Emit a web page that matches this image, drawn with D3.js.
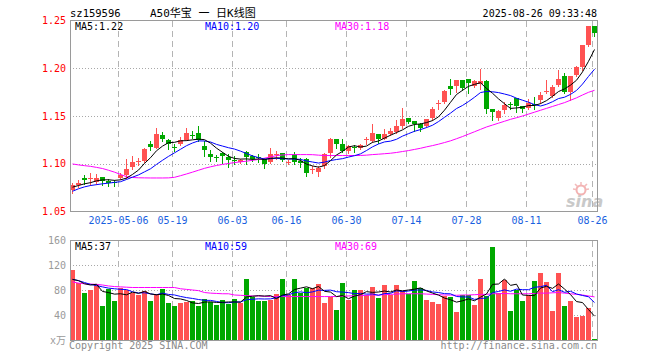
<!DOCTYPE html>
<html><head><meta charset="utf-8">
<script src="https://cdn.jsdelivr.net/npm/d3@7/dist/d3.min.js"></script>
<style>
body{margin:0;background:#fff}
svg{display:block}
</style>
</head><body>
<svg id="chart" width="660" height="360"></svg>
<script>
const dates = ["2025-04-21","2025-04-22","2025-04-23","2025-04-24","2025-04-25","2025-04-28","2025-04-29","2025-04-30",
"2025-05-06","2025-05-07","2025-05-08","2025-05-09","2025-05-12","2025-05-13","2025-05-14","2025-05-15","2025-05-16","2025-05-19","2025-05-20","2025-05-21","2025-05-22","2025-05-23","2025-05-26","2025-05-27","2025-05-28","2025-05-29","2025-05-30",
"2025-06-03","2025-06-04","2025-06-05","2025-06-06","2025-06-09","2025-06-10","2025-06-11","2025-06-12","2025-06-13","2025-06-16","2025-06-17","2025-06-18","2025-06-19","2025-06-20","2025-06-23","2025-06-24","2025-06-25","2025-06-26","2025-06-27","2025-06-30",
"2025-07-01","2025-07-02","2025-07-03","2025-07-04","2025-07-07","2025-07-08","2025-07-09","2025-07-10","2025-07-11","2025-07-14","2025-07-15","2025-07-16","2025-07-17","2025-07-18","2025-07-21","2025-07-22","2025-07-23","2025-07-24","2025-07-25","2025-07-28","2025-07-29","2025-07-30","2025-07-31",
"2025-08-01","2025-08-04","2025-08-05","2025-08-06","2025-08-07","2025-08-08","2025-08-11","2025-08-12","2025-08-13","2025-08-14","2025-08-15","2025-08-18","2025-08-19","2025-08-20","2025-08-21","2025-08-22","2025-08-25","2025-08-26"];

const openP = [1.0720,1.0774,1.0846,1.0850,1.0808,1.0857,1.0815,1.0808,1.0853,1.0885,
1.0965,1.1024,1.1028,1.1210,1.1168,1.1305,1.1245,1.1178,1.1203,1.1252,
1.1304,1.1318,1.1182,1.1098,1.1070,1.1108,1.1070,1.1038,1.1017,1.1122,
1.1078,1.1073,1.1045,1.1017,1.1094,1.1108,1.1015,1.1098,1.1028,1.1052,
1.0937,1.0913,1.0976,1.1115,1.1255,1.1203,1.1133,1.1171,1.1168,1.1252,
1.1238,1.1308,1.1262,1.1308,1.1332,1.1395,1.1476,1.1448,1.1413,1.1395,
1.1475,1.1634,1.1650,1.1813,1.1818,1.1874,1.1883,1.1818,1.1836,1.1865,
1.1574,1.1481,1.1560,1.1626,1.1692,1.1602,1.1587,1.1622,1.1665,1.1756,
1.1706,1.1822,1.1920,1.1752,1.1934,1.2014,1.2241,1.2440];

const highP = [1.0794,1.0832,1.0877,1.0902,1.0895,1.0857,1.0836,1.0832,1.0902,1.1045,
1.1084,1.1063,1.1168,1.1238,1.1370,1.1335,1.1255,1.1203,1.1280,1.1377,
1.1339,1.1391,1.1238,1.1140,1.1087,1.1126,1.1098,1.1080,1.1052,1.1133,
1.1090,1.1098,1.1063,1.1161,1.1133,1.1115,1.1035,1.1126,1.1063,1.1063,
1.0976,1.0976,1.1115,1.1273,1.1255,1.1255,1.1192,1.1192,1.1203,1.1283,
1.1413,1.1308,1.1360,1.1378,1.1458,1.1587,1.1483,1.1448,1.1430,1.1472,
1.1590,1.1672,1.1769,1.1892,1.1881,1.1874,1.1892,1.1881,1.1995,1.1874,
1.1577,1.1560,1.1647,1.1647,1.1692,1.1602,1.1682,1.1699,1.1752,1.1874,
1.1822,1.1979,1.1951,1.1916,1.2024,1.2241,1.2440,1.2440];

const lowP = [1.0696,1.0755,1.0790,1.0773,1.0783,1.0776,1.0769,1.0766,1.0839,1.0853,
1.0941,1.0986,1.1021,1.1147,1.1160,1.1238,1.1154,1.1133,1.1196,1.1245,
1.1269,1.1238,1.1077,1.1028,1.1028,1.1003,1.0965,1.0993,1.1003,1.1000,
1.1028,1.1017,1.0951,1.1003,1.1045,1.1024,1.0993,1.0993,1.0965,1.0871,
1.0906,1.0871,1.0958,1.1073,1.1168,1.1126,1.1108,1.1122,1.1150,1.1203,
1.1227,1.1220,1.1255,1.1297,1.1318,1.1378,1.1430,1.1343,1.1343,1.1388,
1.1462,1.1577,1.1640,1.1730,1.1752,1.1769,1.1741,1.1804,1.1780,1.1535,
1.1462,1.1462,1.1532,1.1577,1.1542,1.1542,1.1577,1.1577,1.1637,1.1741,
1.1699,1.1815,1.1741,1.1665,1.1916,1.1979,1.2231,1.2335];

const closeP = [1.0773,1.0794,1.0832,1.0853,1.0853,1.0822,1.0801,1.0801,1.0881,1.0944,
1.1014,1.1028,1.1154,1.1175,1.1310,1.1255,1.1210,1.1172,1.1252,1.1321,
1.1297,1.1248,1.1143,1.1070,1.1059,1.1080,1.1038,1.1031,1.1035,1.1070,
1.1052,1.1063,1.1000,1.1098,1.1098,1.1038,1.1019,1.1017,1.1003,1.0906,
1.0941,1.0955,1.1098,1.1262,1.1203,1.1130,1.1185,1.1164,1.1192,1.1255,
1.1325,1.1255,1.1315,1.1343,1.1395,1.1465,1.1441,1.1413,1.1371,1.1465,
1.1570,1.1637,1.1762,1.1782,1.1874,1.1789,1.1846,1.1867,1.1865,1.1577,
1.1537,1.1552,1.1612,1.1619,1.1602,1.1577,1.1637,1.1615,1.1717,1.1759,
1.1804,1.1885,1.1752,1.1916,1.2014,1.2241,1.2440,1.2370];

// price moving averages: first points (that need earlier history)
const ma5Head  = [1.0755,1.0772,1.0790,1.0802];
const ma10Head = [1.0712,1.0738,1.0758,1.0772,1.0781,1.0790,1.0797,1.0805,1.0812];
const ma30P = [1.0998,1.0988,1.0980,1.0973,1.0962,1.0950,1.0932,1.0912,1.0888,1.0865,
1.0856,1.0853,1.0852,1.0851,1.0851,1.0851,1.0852,1.0858,1.0875,1.0893,
1.0912,1.0932,1.0952,1.0968,1.0982,1.0993,1.1003,1.1012,1.1020,1.1027,
1.1036,1.1045,1.1058,1.1072,1.1085,1.1092,1.1096,1.1096,1.1096,1.1096,
1.1095,1.1090,1.1086,1.1086,1.1086,1.1086,1.1086,1.1086,1.1087,1.1090,
1.1096,1.1100,1.1105,1.1110,1.1118,1.1128,1.1138,1.1150,1.1162,1.1177,
1.1190,1.1205,1.1222,1.1240,1.1262,1.1285,1.1310,1.1335,1.1360,1.1385,
1.1405,1.1425,1.1445,1.1465,1.1482,1.1500,1.1520,1.1540,1.1560,1.1580,
1.1600,1.1620,1.1640,1.1665,1.1690,1.1720,1.1748,1.1769];

// volume (万)
const volume = [112,91,75,80,88,54.5,82,62.5,83,79.5,
76,72,78.5,62.5,73,82,60,54.5,59,61,
62.5,55,65.5,61.5,56,63.5,58,65.5,60,97.5,
69,62.5,62.5,63.5,73.5,97.5,72,97.5,74.5,84,
82.5,89.5,59,68.5,48,91,64,80,80,72,
85,67,88,72,88,78.5,73.5,94.5,82.5,64,
61,57.5,70.5,69,45,72,72,56,97.5,70.5,
149,75,96,46.5,80,62.5,72,94.5,107,93,
46.5,107,54.5,62.5,37,38.5,51,2];
const volMa5Head  = [97,95,90,88];
const volMa10Head = [97,95,92,89,87,85,83,82,81];
const volMa30 = [93,91,90,89.5,89,88,86.5,85.5,85,84.5,
84,84,84,84,84,84,84,84,82,81,
80,79,76,75,74.5,74,74,72,71.5,71,
70.5,70.5,70,69.5,69.5,69.5,69.5,69.5,69.5,69.5,
69.5,69.5,69.5,69.5,69.5,70,70.5,71,71,71.5,
72,72,72.5,73,73.5,74,74,74,74,73.5,
73,72.5,72,72,71.5,72,72,72.5,73,73,
74,74,74.5,74,74,74,74,74.5,75,75,
75.5,76,75,74,73,72,70.5,69];

const priceTicks = [1.05,1.10,1.15,1.20,1.25];
const priceGrid = [1.10,1.15,1.20];
const volTicks = [0,40,80,120,160];
const volGrid = [40,80,120];
const dateTicks = ["2025-05-06","2025-05-19","2025-06-03","2025-06-16","2025-06-30","2025-07-14","2025-07-28","2025-08-11","2025-08-26"];
const dateTickLabels = ["2025-05-06","05-19","06-03","06-16","06-30","07-14","07-28","08-11","08-26"];
const priceMaLabels = ["MA5:1.22","MA10:1.20","MA30:1.18"];
const volMaLabels = ["MA5:37","MA10:59","MA30:69"];
const titleTexts = ["sz159596","A50华宝 一 日K线图","2025-08-26 09:33:48"];

function movingAvg(vals, n, head){
  return vals.map((v,i)=> i < n-1 ? head[i] : d3.mean(vals.slice(i-n+1, i+1)));
}
const ma5P = movingAvg(closeP,5,ma5Head);
const ma10P = movingAvg(closeP,10,ma10Head);
const volMa5 = movingAvg(volume,5,volMa5Head);
const volMa10 = movingAvg(volume,10,volMa10Head);

const MONO = "'DejaVu Sans Mono', 'Liberation Mono', monospace";
const RED = "#ff5252", GREEN = "#00a800";
const L = 70, R = 597, T1 = 20, B1 = 211, T2 = 240, B2 = 340;

const svg = d3.select("#chart");

const x = d3.scaleBand().domain(dates).range([L-0.5, R+0.5]).paddingInner(1/6).paddingOuter(1/12);
const bw = x.bandwidth();
const y = d3.scaleLinear().domain([1.05,1.25]).range([B1+0.5, T1+0.5]);
const yv = d3.scaleLinear().domain([0,160]).range([B2, T2]);

const px = v => Math.round(v) + 0.5;

// title row
svg.append("text").attr("x",70).attr("y",17).attr("font-family",MONO).attr("font-size",10.5).attr("fill","#000").text(titleTexts[0]);
svg.append("text").attr("x",150).attr("y",17).attr("font-family","'DejaVu Sans Mono','Noto Sans CJK SC',monospace").attr("font-size",11).attr("fill","#000").text(titleTexts[1]);
svg.append("text").attr("x",597).attr("y",17).attr("text-anchor","end").attr("font-family",MONO).attr("font-size",10).attr("fill","#000").text(titleTexts[2]);

// grids
function grids(g, yScale, gridVals, top, bottom){
  g.selectAll(".hg").data(gridVals).join("line")
    .attr("x1",L).attr("x2",R).attr("y1",d=>px(yScale(d))).attr("y2",d=>px(yScale(d)))
    .attr("stroke","#a8a8a8").attr("stroke-dasharray","1,2");
  g.selectAll(".vg").data(dateTicks).join("line")
    .attr("x1",d=>x(d)+0.5).attr("x2",d=>x(d)+0.5).attr("y1",top).attr("y2",bottom)
    .attr("stroke","#b4b4b4").attr("stroke-dasharray","6,4");
}
const gMain = svg.append("g");
grids(gMain.append("g"), y, priceGrid, T1+1, B1);
const gVol = svg.append("g");
grids(gVol.append("g"), yv, volGrid, T2+1, B2);

// watermark
const wm = svg.append("g").attr("opacity",0.9);
wm.append("circle").attr("cx",581).attr("cy",190).attr("r",4.5).attr("fill","none").attr("stroke","#f2aaaa").attr("stroke-width",2);
[[-8,-1],[-6,-6],[0,-8],[6,-6],[8,-1]].forEach(([dx,dy])=>{
  wm.append("line").attr("x1",581+dx*0.6).attr("y1",190+dy*0.6).attr("x2",581+dx).attr("y2",190+dy).attr("stroke","#f2b4b4").attr("stroke-width",1.5);
});
wm.append("text").attr("x",566).attr("y",207).attr("font-family","'DejaVu Sans',sans-serif").attr("font-weight","bold").attr("font-style","italic").attr("font-size",16).attr("fill","#c4c4c4").text("sina");

// candles
const idx = d3.range(dates.length);
const isUp = i => closeP[i] >= openP[i];
const cg = svg.append("g");
cg.selectAll("line").data(idx).join("line")
  .attr("x1",i=>x(dates[i])+2.5).attr("x2",i=>x(dates[i])+2.5)
  .attr("y1",i=>Math.round(y(highP[i]))).attr("y2",i=>Math.round(y(lowP[i]))+1)
  .attr("stroke",i=>isUp(i)?RED:GREEN).attr("stroke-width",1);
cg.selectAll("rect").data(idx).join("rect")
  .attr("x",i=>x(dates[i])).attr("width",bw)
  .attr("y",i=>Math.round(y(Math.max(openP[i],closeP[i]))))
  .attr("height",i=>Math.max(1, Math.round(y(Math.min(openP[i],closeP[i]))) - Math.round(y(Math.max(openP[i],closeP[i])))))
  .attr("fill",i=>isUp(i)?RED:GREEN);

// volume bars
svg.append("g").selectAll("rect").data(idx).join("rect")
  .attr("x",i=>x(dates[i])).attr("width",bw)
  .attr("y",i=>Math.round(yv(volume[i]))).attr("height",i=>B2-Math.round(yv(volume[i])))
  .attr("fill",i=>isUp(i)?RED:GREEN);

// MA lines
function maLine(vals, scale, color){
  const line = d3.line().x((d,i)=>x(dates[i])+2.5).y(d=>scale(d));
  svg.append("path").datum(vals).attr("d",line).attr("fill","none").attr("stroke",color).attr("stroke-width",1);
}
maLine(ma30P, y, "#ff00ff");
maLine(ma10P, y, "#0000ff");
maLine(ma5P, y, "#000000");
maLine(volMa30, yv, "#ff00ff");
maLine(volMa10, yv, "#0000ff");
maLine(volMa5, yv, "#000000");

// frames
svg.append("rect").attr("x",L+0.5).attr("y",T1+0.5).attr("width",R-L).attr("height",B1-T1).attr("fill","none").attr("stroke","#9a9a9a");
svg.append("rect").attr("x",L+0.5).attr("y",T2+0.5).attr("width",R-L).attr("height",B2-T2).attr("fill","none").attr("stroke","#9a9a9a");

// MA labels
const maColors = ["#000","#0000ff","#ff00ff"], maX = [75,205,335];
priceMaLabels.forEach((t,k)=> svg.append("text").attr("x",maX[k]).attr("y",30).attr("font-family",MONO).attr("font-size",10).attr("fill",maColors[k]).text(t));
volMaLabels.forEach((t,k)=> svg.append("text").attr("x",maX[k]).attr("y",250).attr("font-family",MONO).attr("font-size",10).attr("fill",maColors[k]).text(t));

// axes
const ay = svg.append("g").attr("transform",`translate(${L},0)`)
  .call(d3.axisLeft(y).tickValues(priceTicks).tickSize(0).tickPadding(4).tickFormat(d3.format(".2f")));
ay.select(".domain").remove();
ay.selectAll("text").attr("font-family",MONO).attr("font-size",10).attr("fill","#ff0000");

const av = svg.append("g").attr("transform",`translate(${L},0)`)
  .call(d3.axisLeft(yv).tickValues(volTicks).tickSize(0).tickPadding(4).tickFormat(d=> d===0 ? "x万" : d));
av.select(".domain").remove();
av.selectAll("text").attr("font-family","'DejaVu Sans Mono','Noto Sans CJK SC',monospace").attr("font-size",10).attr("fill","#9a9a9a");

const ax = svg.append("g").attr("transform",`translate(${-bw/2+0.5},${B1})`)
  .call(d3.axisBottom(x).tickValues(dateTicks).tickSize(0).tickPadding(6).tickFormat((d,i)=>dateTickLabels[i]));
ax.select(".domain").remove();
ax.selectAll("text").attr("font-family",MONO).attr("font-size",10).attr("fill","#1a5fe0");

// footer
svg.append("text").attr("x",69).attr("y",349).attr("font-family",MONO).attr("font-size",10).attr("fill","#8a8a8a").text("Copyright 2025 SINA.COM");
svg.append("text").attr("x",597).attr("y",349).attr("text-anchor","end").attr("font-family",MONO).attr("font-size",10).attr("fill","#8a8a8a").text("http://finance.sina.com.cn");
</script>
</body></html>
